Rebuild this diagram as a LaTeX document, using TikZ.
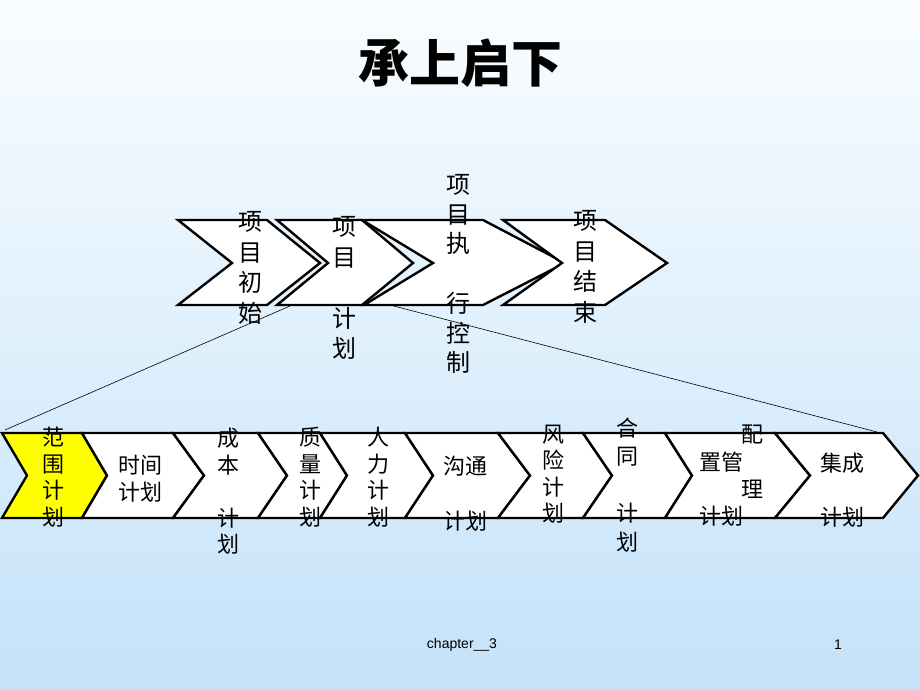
\documentclass[tikz,border=0pt]{standalone}
\usepackage{fontspec}
\setmainfont{Liberation Sans}
\newfontfamily\cjk{Noto Sans CJK SC}
\begin{document}
\begin{tikzpicture}[x=1pt,y=-1pt,
  chev/.style={draw=black,line width=2.4pt,fill=white,line join=miter},
  toptxt/.style={font=\cjk\fontsize{24}{30.5}\selectfont,align=center,inner sep=0pt},
  bottxt/.style={font=\cjk\fontsize{22}{26.5}\selectfont,align=center,inner sep=0pt},
  zoomline/.style={draw=black,line width=0.6pt}]
\useasboundingbox (0,0) rectangle (920,690);
\shade[top color={rgb,255:red,250;green,253;blue,255},bottom color={rgb,255:red,196;green,226;blue,250}] (0,0) rectangle (920,690);
% title
\node[font=\cjk\bfseries\fontsize{51}{58}\selectfont] (title) at (460,63) {承上启下};
% top chevrons
\draw[chev] (178,220) -- (267,220) -- (320,263) -- (267,305) -- (178,305) -- (232,263) -- cycle;
\draw[chev] (277,220) -- (362,220) -- (413,263) -- (362,305) -- (277,305) -- (328,263) -- cycle;
\draw[chev] (362,220) -- (483,220) -- (565,263) -- (483,305) -- (364,305) -- (433,263) -- cycle;
\draw[chev] (503,220) -- (605,220) -- (667,263) -- (605,305) -- (503,305) -- (562,263) -- cycle;
% zoom lines
\coordinate (za) at (290,306);
\coordinate (zb) at (5,430);
\coordinate (zc) at (390,305);
\coordinate (zd) at (877,432);
\draw[zoomline] (za) -- (zb);
\draw[zoomline] (zc) -- (zd);
% bottom chevrons
\draw[chev,fill={rgb,255:red,255;green,255;blue,0}] (2,433) -- (82,433) -- (107,475.5) -- (82,518) -- (2,518) -- (27,475.5) -- cycle;
\draw[chev] (82,433) -- (173,433) -- (204,475.5) -- (173,518) -- (82,518) -- (107,475.5) -- cycle;
\draw[chev] (173,433) -- (258,433) -- (287,475.5) -- (258,518) -- (173,518) -- (204,475.5) -- cycle;
\draw[chev] (258,433) -- (320,433) -- (347,475.5) -- (320,518) -- (258,518) -- (287,475.5) -- cycle;
\draw[chev] (320,433) -- (405,433) -- (433,475.5) -- (405,518) -- (320,518) -- (347,475.5) -- cycle;
\draw[chev] (405,433) -- (498,433) -- (530,475.5) -- (498,518) -- (405,518) -- (433,475.5) -- cycle;
\draw[chev] (498,433) -- (583,433) -- (612,475.5) -- (583,518) -- (498,518) -- (530,475.5) -- cycle;
\draw[chev] (583,433) -- (665,433) -- (692,475.5) -- (665,518) -- (583,518) -- (612,475.5) -- cycle;
\draw[chev] (665,433) -- (775,433) -- (810,475.5) -- (775,518) -- (665,518) -- (692,475.5) -- cycle;
\draw[chev] (775,433) -- (883,433) -- (918,475.5) -- (883,518) -- (775,518) -- (810,475.5) -- cycle;
% top texts
\node[toptxt] (t1) at (250,268) {项\\目\\初\\始};
\node[toptxt] (t2) at (344,288) {项\\目\\~\\计\\划};
\node[toptxt,font=\cjk\fontsize{24}{29.7}\selectfont] (t3) at (458,274) {项\\目\\执\\~\\行\\控\\制};
\node[toptxt] (t4) at (585,267) {项\\目\\结\\束};
% bottom texts
\node[bottxt] (b1) at (53,477) {范\\围\\计\\划};
\node[bottxt] (b2) at (140,478.5) {时间\\计划};
\node[bottxt] (b3) at (228,491.5) {成\\本\\~\\计\\划};
\node[bottxt] (b4) at (310,477) {质\\量\\计\\划};
\node[bottxt] (b5) at (378,477) {人\\力\\计\\划};
\node[bottxt,font=\cjk\fontsize{22}{27.5}\selectfont] (b6) at (465,493.5) {沟通\\~\\计划};
\node[bottxt] (b7) at (553,474) {风\\险\\计\\划};
\node[bottxt,font=\cjk\fontsize{22}{28.5}\selectfont] (b8) at (627,485) {合\\同\\~\\计\\划};
\node[bottxt,align=left,anchor=west,font=\cjk\fontsize{22}{27.3}\selectfont] (b9) at (699,476) {\hspace*{42pt}配\\置管\\\hspace*{42pt}理\\计划};
\node[bottxt,font=\cjk\fontsize{22}{27}\selectfont] (b10) at (842,490) {集成\\~\\计划};
% footer
\node[font=\fontsize{14}{16}\selectfont,inner sep=0pt] (foot) at (462,645) {chapter\_\_3};
\node[font=\fontsize{14}{16}\selectfont,inner sep=0pt] (pg) at (838,645) {1};
\end{tikzpicture}
\end{document}
